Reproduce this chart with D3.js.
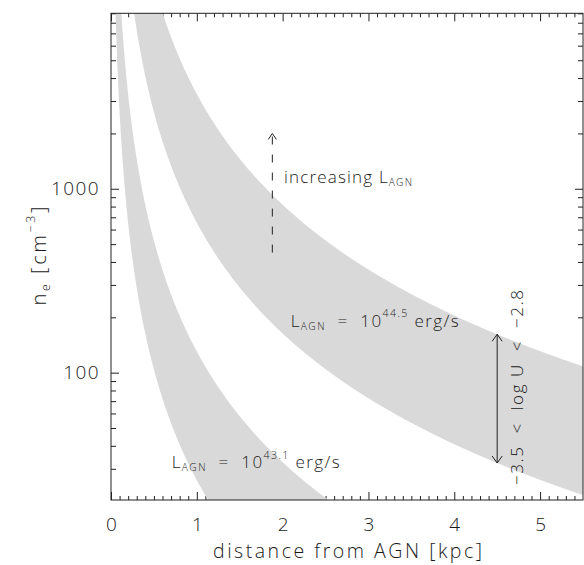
<!DOCTYPE html>
<html>
<head>
<meta charset="utf-8">
<script src="https://cdn.jsdelivr.net/npm/d3@7"></script>
<style>
  html, body { margin: 0; padding: 0; background: #fff; }
  text { font-family: "Open Sans", "Liberation Sans", Arial, sans-serif; font-weight: 300; fill: #1a1a1a; }
</style>
</head>
<body>
<svg id="chart" width="584" height="565"></svg>
<script>
// log L_AGN [erg/s] of the two sources
const logLuminosity = [43.1, 44.5];
// ionization parameter range bounding each band (log U)
const logUBounds = [-3.5, -2.8];
// log of n_e * r^2 [cm^-3 kpc^2] per unit L/U, i.e. 1 / (4 pi c <h nu>) in these units
const logDensityNorm = -44.485;

const xDomain = [0, 5.5];
const yDomain = [20.3, 9000];
const xMajorTicks = [0, 1, 2, 3, 4, 5];
const xTickLabels = ["0", "1", "2", "3", "4", "5"];
const yMajorTicks = [100, 1000];
const yTickLabels = ["100", "1000"];
const yMinorTicks = [30, 40, 50, 60, 70, 80, 90, 200, 300, 400, 500, 600, 700, 800, 900,
                     2000, 3000, 4000, 5000, 6000, 7000, 8000, 9000];

// "increasing L_AGN" arrow: distance [kpc] and density span [cm^-3]
const trendArrowR = 1.88;
const trendArrowN = [450, 2000];
// distance [kpc] where the log U range is marked
const rangeArrowR = 4.5;

const FONT = '"Open Sans", "Liberation Sans", Arial, sans-serif';
const svg = d3.select("#chart");
const box = { left: 111, right: 583, top: 13.3, bottom: 500 };

const x = d3.scaleLinear().domain(xDomain).range([box.left, box.right]);
const y = d3.scaleLog().domain(yDomain).range([box.bottom, box.top]);

const density = (r, logL, logU) => Math.pow(10, logDensityNorm + logL - logU) / (r * r);

const xMinorTicks = d3.range(0, 55).map(i => i / 10).filter(v => Math.abs(v - Math.round(v)) > 1e-6);

// ---- ticks on all four sides, pointing inward ----
function cleanAxis(g) { g.select(".domain").remove(); g.selectAll(".tick line").attr("stroke", "#222"); }

svg.append("g").attr("transform", `translate(0,${box.bottom})`)
  .call(d3.axisBottom(x).tickValues(xMinorTicks).tickSize(-4).tickFormat(""))
  .call(cleanAxis);
svg.append("g").attr("transform", `translate(0,${box.top})`)
  .call(d3.axisTop(x).tickValues(xMinorTicks).tickSize(-4).tickFormat(""))
  .call(cleanAxis);
svg.append("g").attr("transform", `translate(0,${box.top})`)
  .call(d3.axisTop(x).tickValues(xMajorTicks).tickSize(-8).tickFormat(""))
  .call(cleanAxis);
const xAxis = svg.append("g").attr("transform", `translate(0,${box.bottom})`)
  .call(d3.axisBottom(x).tickValues(xMajorTicks).tickSize(-8).tickPadding(18)
        .tickFormat((d, i) => xTickLabels[i]))
  .call(cleanAxis);
xAxis.selectAll("text").attr("font-size", 19).attr("fill", "#1a1a1a")
  .attr("font-family", FONT).attr("font-weight", 300);

svg.append("g").attr("transform", `translate(${box.left},0)`)
  .call(d3.axisLeft(y).tickValues(yMinorTicks).tickSize(-5).tickFormat(""))
  .call(cleanAxis);
svg.append("g").attr("transform", `translate(${box.right},0)`)
  .call(d3.axisRight(y).tickValues(yMinorTicks).tickSize(-5).tickFormat(""))
  .call(cleanAxis);
svg.append("g").attr("transform", `translate(${box.right},0)`)
  .call(d3.axisRight(y).tickValues(yMajorTicks).tickSize(-8).tickFormat(""))
  .call(cleanAxis);
const yAxis = svg.append("g").attr("transform", `translate(${box.left},0)`)
  .call(d3.axisLeft(y).tickValues(yMajorTicks).tickSize(-8).tickPadding(11)
        .tickFormat((d, i) => yTickLabels[i]))
  .call(cleanAxis);
yAxis.selectAll("text").attr("font-size", 19).attr("fill", "#1a1a1a")
  .attr("font-family", FONT).attr("font-weight", 300)
  .attr("letter-spacing", 1.4);

// ---- density bands for each luminosity ----
svg.append("clipPath").attr("id", "plot-clip")
  .append("rect")
  .attr("x", box.left).attr("y", box.top)
  .attr("width", box.right - box.left).attr("height", box.bottom - box.top);

const radii = d3.range(0.02, 5.6, 0.005);
const band = logL => d3.area()
  .x(r => x(r))
  .y0(r => y(density(r, logL, logUBounds[1])))
  .y1(r => y(density(r, logL, logUBounds[0])));

svg.append("g").attr("clip-path", "url(#plot-clip)")
  .selectAll("path").data(logLuminosity).join("path")
  .attr("d", logL => band(logL)(radii))
  .attr("fill", "#d9d9d9");

// frame
svg.append("rect")
  .attr("x", box.left).attr("y", box.top)
  .attr("width", box.right - box.left).attr("height", box.bottom - box.top)
  .attr("fill", "none").attr("stroke", "#222").attr("stroke-width", 1);

// ---- text with sub/superscripts ----
function richText(parent, parts, size) {
  const t = parent.append("text").attr("font-size", size).attr("xml:space", "preserve");
  let shift = 0;
  parts.forEach(([s, kind]) => {
    const target = kind === "sub" ? 0.18 * size : kind === "sup" ? -0.55 * size : 0;
    const fs = kind === "sub" ? 0.6 * size : kind === "sup" ? 0.62 * size : size;
    t.append("tspan").attr("dy", target - shift).attr("font-size", fs).text(s);
    shift = target;
  });
  return t;
}

// axis titles
richText(svg, [["distance from AGN [kpc]", ""]], 19.5)
  .attr("x", 347.5).attr("y", 558).attr("text-anchor", "middle")
  .attr("textLength", 269).attr("lengthAdjust", "spacing");

richText(svg.append("g").attr("transform", "translate(46,256) rotate(-90)"),
  [["n", ""], ["e", "sub"], [" [cm", ""], ["\u22123", "sup"], ["]", ""]], 20)
  .attr("x", 0).attr("y", 0).attr("text-anchor", "middle")
  .attr("textLength", 99).attr("lengthAdjust", "spacing");

// luminosity labels
const lumLabels = [
  { logL: logLuminosity[0], x: 171.7, y: 468.3 },
  { logL: logLuminosity[1], x: 290.7, y: 326.7 }
];
lumLabels.forEach(d => {
  richText(svg, [["L", ""], ["AGN", "sub"], ["  =  10", ""], [String(d.logL), "sup"], [" erg/s", ""]], 17)
    .attr("x", d.x).attr("y", d.y)
    .attr("textLength", 168).attr("lengthAdjust", "spacing");
});

// increasing-luminosity arrow
const ax = x(trendArrowR), ayBottom = y(trendArrowN[0]), ayTop = y(trendArrowN[1]);
svg.append("line")
  .attr("x1", ax).attr("x2", ax).attr("y1", ayBottom).attr("y2", ayTop + 1)
  .attr("stroke", "#222").attr("stroke-width", 1).attr("stroke-dasharray", "8,10");
svg.append("path")
  .attr("d", `M${ax - 4},${ayTop + 6}L${ax},${ayTop}L${ax + 4},${ayTop + 6}`)
  .attr("fill", "none").attr("stroke", "#222").attr("stroke-width", 1);
richText(svg, [["increasing L", ""], ["AGN", "sub"]], 17)
  .attr("x", 284).attr("y", 183)
  .attr("textLength", 128).attr("lengthAdjust", "spacing");

// log U range arrow at fixed distance on the brighter band
const rx = x(rangeArrowR);
const rTop = y(density(rangeArrowR, logLuminosity[1], logUBounds[0]));
const rBot = y(density(rangeArrowR, logLuminosity[1], logUBounds[1]));
svg.append("line")
  .attr("x1", rx).attr("x2", rx).attr("y1", rTop).attr("y2", rBot)
  .attr("stroke", "#222").attr("stroke-width", 1);
svg.append("path")
  .attr("d", `M${rx - 5},${rTop + 7}L${rx},${rTop}L${rx + 5},${rTop + 7}` +
             `M${rx - 5},${rBot - 7}L${rx},${rBot}L${rx + 5},${rBot - 7}`)
  .attr("fill", "none").attr("stroke", "#222").attr("stroke-width", 1);

svg.append("g").attr("transform", "translate(522.7,387.5) rotate(-90)")
  .append("text").attr("font-size", 17).attr("text-anchor", "middle")
  .attr("xml:space", "preserve")
  .attr("textLength", 195).attr("lengthAdjust", "spacing")
  .text(`\u2212${Math.abs(logUBounds[0])}  <  log U  <  \u2212${Math.abs(logUBounds[1])}`);
</script>
</body>
</html>
